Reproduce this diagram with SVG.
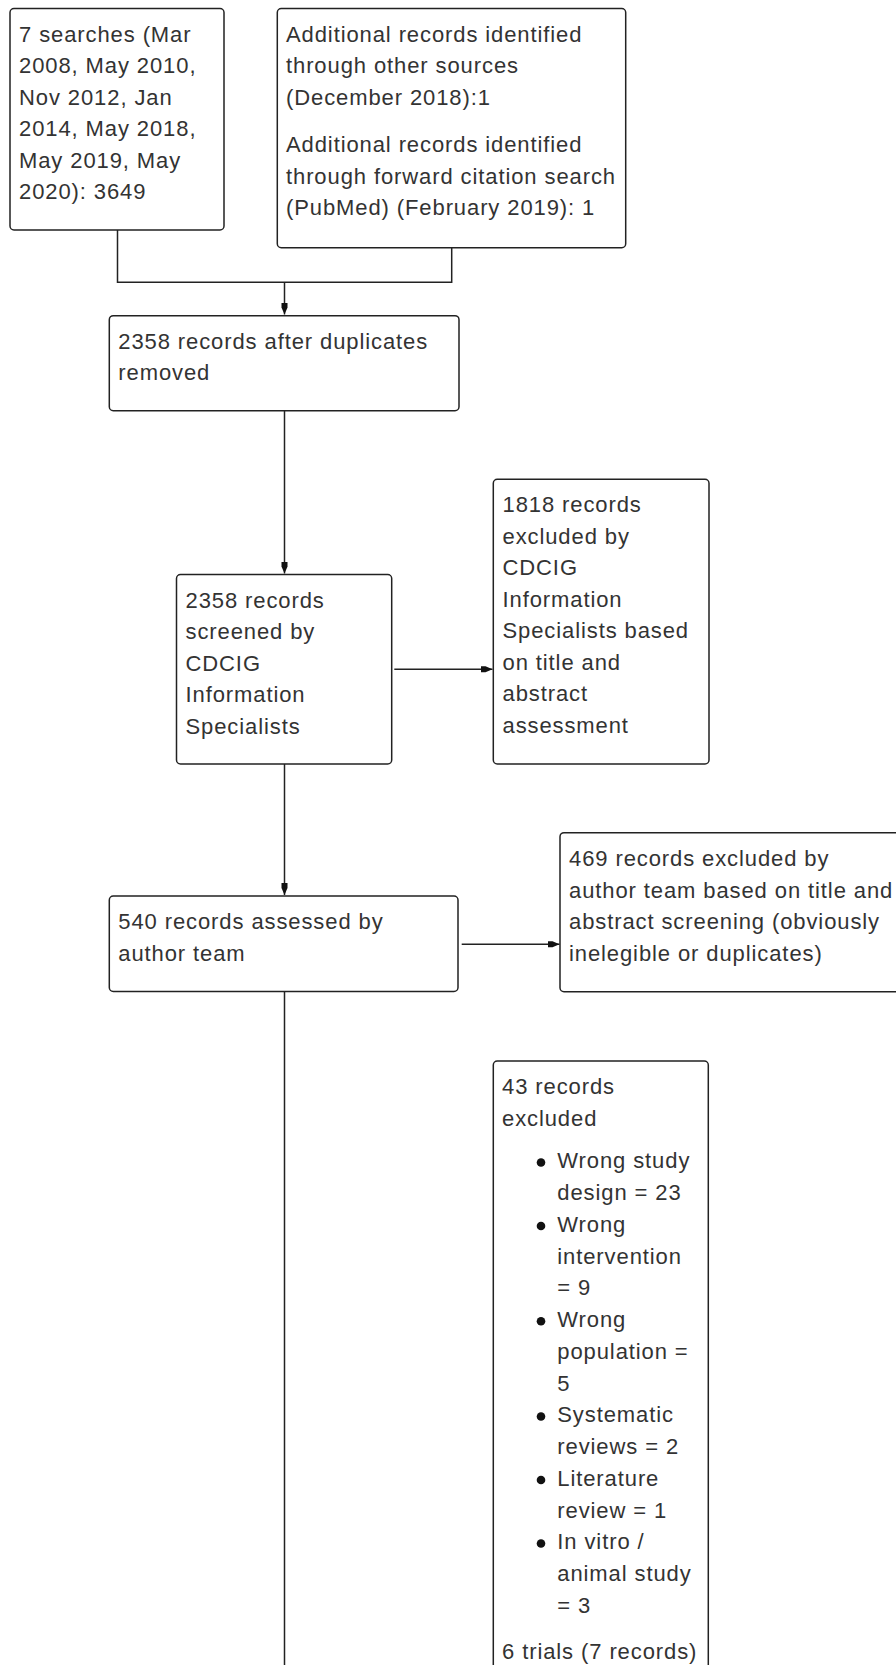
<svg xmlns="http://www.w3.org/2000/svg" width="896" height="1665" viewBox="0 0 896 1665">
<style>
.box{fill:#fff;stroke:#222;stroke-width:1.5}
.ln{fill:none;stroke:#222;stroke-width:1.5}
text{font-family:"Liberation Sans",Arial,sans-serif;font-size:22px;fill:#333;letter-spacing:0.9px}
.dot{fill:#111}
</style>
<defs>
<marker id="ah" markerUnits="userSpaceOnUse" markerWidth="14" markerHeight="10" refX="12" refY="4" orient="auto">
<path d="M0,1 L5,1 L12,4 L5,7 L0,7 z" fill="#111"/>
</marker>
</defs>
<rect width="896" height="1665" fill="#fff"/>
<g id="connectors">
<path class="ln" d="M117.5,230 V282.3 H451.7 V247.7"/>
<path class="ln" d="M284.5,282.3 V314.5" marker-end="url(#ah)"/>
<path class="ln" d="M284.5,410.7 V573.5" marker-end="url(#ah)"/>
<path class="ln" d="M394.3,669.3 H492.5" marker-end="url(#ah)"/>
<path class="ln" d="M284.5,764 V895" marker-end="url(#ah)"/>
<path class="ln" d="M461.7,944.3 H559.5" marker-end="url(#ah)"/>
<path class="ln" d="M284.5,991.5 V1670"/>
</g>
<g id="n1">
<rect class="box" x="10" y="8.5" width="214" height="221.5" rx="4"/>
<text x="19" y="41.7">7 searches (Mar</text>
<text x="19" y="73.2">2008, May 2010,</text>
<text x="19" y="104.7">Nov 2012, Jan</text>
<text x="19" y="136.2">2014, May 2018,</text>
<text x="19" y="167.7">May 2019, May</text>
<text x="19" y="199.2">2020): 3649</text>
</g>
<g id="n2">
<rect class="box" x="277.3" y="8.5" width="348.4" height="239.2" rx="4"/>
<text x="286" y="41.7">Additional records identified</text>
<text x="286" y="73.2">through other sources</text>
<text x="286" y="104.7">(December 2018):1</text>
<text x="286" y="152">Additional records identified</text>
<text x="286" y="183.5">through forward citation search</text>
<text x="286" y="215">(PubMed) (February 2019): 1</text>
</g>
<g id="n3">
<rect class="box" x="109.3" y="315.7" width="349.7" height="95" rx="4"/>
<text x="118.3" y="348.5">2358 records after duplicates</text>
<text x="118.3" y="380">removed</text>
</g>
<g id="n4">
<rect class="box" x="176.5" y="574.5" width="215.2" height="189.5" rx="4"/>
<text x="185.5" y="607.7">2358 records</text>
<text x="185.5" y="639.2">screened by</text>
<text x="185.5" y="670.7">CDCIG</text>
<text x="185.5" y="702.2">Information</text>
<text x="185.5" y="733.7">Specialists</text>
</g>
<g id="n5">
<rect class="box" x="493.3" y="479.3" width="215.7" height="284.7" rx="4"/>
<text x="502.5" y="512.2">1818 records</text>
<text x="502.5" y="543.7">excluded by</text>
<text x="502.5" y="575.2">CDCIG</text>
<text x="502.5" y="606.7">Information</text>
<text x="502.5" y="638.2">Specialists based</text>
<text x="502.5" y="669.7">on title and</text>
<text x="502.5" y="701.2">abstract</text>
<text x="502.5" y="732.7">assessment</text>
</g>
<g id="n6">
<rect class="box" x="109.3" y="896" width="348.7" height="95.5" rx="4"/>
<text x="118.3" y="929">540 records assessed by</text>
<text x="118.3" y="960.5">author team</text>
</g>
<g id="n7">
<rect class="box" x="560" y="832.7" width="345" height="159" rx="4"/>
<text x="569" y="866">469 records excluded by</text>
<text x="569" y="897.5">author team based on title and</text>
<text x="569" y="929">abstract screening (obviously</text>
<text x="569" y="960.5">inelegible or duplicates)</text>
</g>
<g id="n8">
<rect class="box" x="493.3" y="1061" width="215" height="640" rx="4"/>
<text x="502" y="1094.4">43 records</text>
<text x="502" y="1125.9">excluded</text>
<circle class="dot" cx="541" cy="1162.5" r="4.3"/>
<text x="557.3" y="1168.3">Wrong study</text>
<text x="557.3" y="1200">design = 23</text>
<circle class="dot" cx="541" cy="1226" r="4.3"/>
<text x="557.3" y="1231.8">Wrong</text>
<text x="557.3" y="1263.5">intervention</text>
<text x="557.3" y="1295.3">= 9</text>
<circle class="dot" cx="541" cy="1321.3" r="4.3"/>
<text x="557.3" y="1327">Wrong</text>
<text x="557.3" y="1358.8">population =</text>
<text x="557.3" y="1390.5">5</text>
<circle class="dot" cx="541" cy="1416.5" r="4.3"/>
<text x="557.3" y="1422.3">Systematic</text>
<text x="557.3" y="1454">reviews = 2</text>
<circle class="dot" cx="541" cy="1480" r="4.3"/>
<text x="557.3" y="1485.8">Literature</text>
<text x="557.3" y="1517.5">review = 1</text>
<circle class="dot" cx="541" cy="1543.5" r="4.3"/>
<text x="557.3" y="1549.3">In vitro /</text>
<text x="557.3" y="1581">animal study</text>
<text x="557.3" y="1612.8">= 3</text>
<text x="502" y="1659">6 trials (7 records)</text>
</g>
</svg>
